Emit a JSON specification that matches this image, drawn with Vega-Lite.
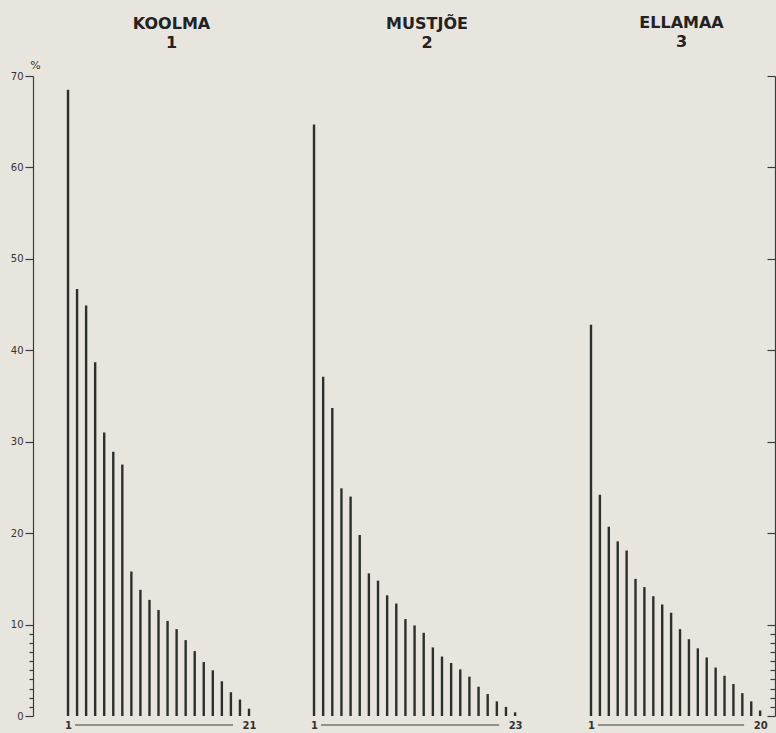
{
  "$schema": "https://vega.github.io/schema/vega-lite/v6.json",
  "background": "#e8e5de",
  "padding": {"left": 10, "top": 15, "right": 0, "bottom": 3},
  "spacing": 0,
  "bounds": "flush",
  "resolve": {"scale": {"x": "independent", "y": "independent"}},
  "config": {
    "view": {"stroke": null},
    "axis": {"labelFont": "DejaVu Sans", "labelFontSize": 10, "labelColor": "#333333", "domainColor": "#3a3d3a", "tickColor": "#3a3d3a", "grid": false, "labelOverlap": false},
    "title": {"font": "DejaVu Sans", "fontSize": 16, "fontWeight": "bold", "color": "#222222", "lineHeight": 19, "offset": 25}
  },
  "datasets": {
    "d": [
      {"site": "KOOLMA", "rank": 1, "pct": 68.5},
      {"site": "KOOLMA", "rank": 2, "pct": 46.7},
      {"site": "KOOLMA", "rank": 3, "pct": 44.9},
      {"site": "KOOLMA", "rank": 4, "pct": 38.7},
      {"site": "KOOLMA", "rank": 5, "pct": 31.0},
      {"site": "KOOLMA", "rank": 6, "pct": 28.9},
      {"site": "KOOLMA", "rank": 7, "pct": 27.5},
      {"site": "KOOLMA", "rank": 8, "pct": 15.8},
      {"site": "KOOLMA", "rank": 9, "pct": 13.8},
      {"site": "KOOLMA", "rank": 10, "pct": 12.7},
      {"site": "KOOLMA", "rank": 11, "pct": 11.6},
      {"site": "KOOLMA", "rank": 12, "pct": 10.4},
      {"site": "KOOLMA", "rank": 13, "pct": 9.5},
      {"site": "KOOLMA", "rank": 14, "pct": 8.3},
      {"site": "KOOLMA", "rank": 15, "pct": 7.1},
      {"site": "KOOLMA", "rank": 16, "pct": 5.9},
      {"site": "KOOLMA", "rank": 17, "pct": 5.0},
      {"site": "KOOLMA", "rank": 18, "pct": 3.8},
      {"site": "KOOLMA", "rank": 19, "pct": 2.6},
      {"site": "KOOLMA", "rank": 20, "pct": 1.8},
      {"site": "KOOLMA", "rank": 21, "pct": 0.8},
      {"site": "MUSTJÕE", "rank": 1, "pct": 64.7},
      {"site": "MUSTJÕE", "rank": 2, "pct": 37.1},
      {"site": "MUSTJÕE", "rank": 3, "pct": 33.7},
      {"site": "MUSTJÕE", "rank": 4, "pct": 24.9},
      {"site": "MUSTJÕE", "rank": 5, "pct": 24.0},
      {"site": "MUSTJÕE", "rank": 6, "pct": 19.8},
      {"site": "MUSTJÕE", "rank": 7, "pct": 15.6},
      {"site": "MUSTJÕE", "rank": 8, "pct": 14.8},
      {"site": "MUSTJÕE", "rank": 9, "pct": 13.2},
      {"site": "MUSTJÕE", "rank": 10, "pct": 12.3},
      {"site": "MUSTJÕE", "rank": 11, "pct": 10.6},
      {"site": "MUSTJÕE", "rank": 12, "pct": 9.9},
      {"site": "MUSTJÕE", "rank": 13, "pct": 9.1},
      {"site": "MUSTJÕE", "rank": 14, "pct": 7.5},
      {"site": "MUSTJÕE", "rank": 15, "pct": 6.5},
      {"site": "MUSTJÕE", "rank": 16, "pct": 5.8},
      {"site": "MUSTJÕE", "rank": 17, "pct": 5.1},
      {"site": "MUSTJÕE", "rank": 18, "pct": 4.3},
      {"site": "MUSTJÕE", "rank": 19, "pct": 3.2},
      {"site": "MUSTJÕE", "rank": 20, "pct": 2.4},
      {"site": "MUSTJÕE", "rank": 21, "pct": 1.6},
      {"site": "MUSTJÕE", "rank": 22, "pct": 1.0},
      {"site": "MUSTJÕE", "rank": 23, "pct": 0.4},
      {"site": "ELLAMAA", "rank": 1, "pct": 42.8},
      {"site": "ELLAMAA", "rank": 2, "pct": 24.2},
      {"site": "ELLAMAA", "rank": 3, "pct": 20.7},
      {"site": "ELLAMAA", "rank": 4, "pct": 19.1},
      {"site": "ELLAMAA", "rank": 5, "pct": 18.1},
      {"site": "ELLAMAA", "rank": 6, "pct": 15.0},
      {"site": "ELLAMAA", "rank": 7, "pct": 14.1},
      {"site": "ELLAMAA", "rank": 8, "pct": 13.1},
      {"site": "ELLAMAA", "rank": 9, "pct": 12.2},
      {"site": "ELLAMAA", "rank": 10, "pct": 11.3},
      {"site": "ELLAMAA", "rank": 11, "pct": 9.5},
      {"site": "ELLAMAA", "rank": 12, "pct": 8.4},
      {"site": "ELLAMAA", "rank": 13, "pct": 7.4},
      {"site": "ELLAMAA", "rank": 14, "pct": 6.4},
      {"site": "ELLAMAA", "rank": 15, "pct": 5.3},
      {"site": "ELLAMAA", "rank": 16, "pct": 4.4},
      {"site": "ELLAMAA", "rank": 17, "pct": 3.5},
      {"site": "ELLAMAA", "rank": 18, "pct": 2.5},
      {"site": "ELLAMAA", "rank": 19, "pct": 1.6},
      {"site": "ELLAMAA", "rank": 20, "pct": 0.6}
    ]
  },
  "hconcat": [
    {
      "width": 277, "height": 640,
      "title": {"text": ["KOOLMA", "1"], "offset": 8},
      "data": {"name": "d"},
      "transform": [{"filter": "datum.site === 'KOOLMA'"}],
      "layer": [
        {
          "mark": {"type": "bar", "orient": "vertical", "size": 2.4, "color": "#2b302c"},
          "encoding": {
            "x": {"field": "rank", "type": "quantitative", "scale": {"domain": [-2.87, 27.74], "nice": false, "zero": false, "padding": 0},
                  "axis": {"values": [1, 21], "domain": false, "ticks": false, "labelFontSize": 10, "labelFontWeight": "bold", "labelPadding": 4, "title": null}},
            "y": {"field": "pct", "type": "quantitative", "scale": {"domain": [0, 70], "nice": false},
                  "axis": {"values": [0, 1, 2, 3, 4, 5, 6, 7, 8, 9, 10, 20, 30, 40, 50, 60, 70], "tickCount": 40,
                           "labelExpr": "datum.value % 10 === 0 ? datum.label : ''",
                           "tickSize": {"condition": {"test": "datum.value % 10 === 0", "value": 8}, "value": 4},
                           "labelPadding": 2, "domainWidth": 1.2, "tickWidth": 1.2,
                           "title": "%", "titleAngle": 0, "titleX": 2, "titleY": -11, "titleAlign": "center", "titleBaseline": "middle",
                           "titleFontSize": 11, "titleFontWeight": "normal", "titleFont": "DejaVu Sans", "titleColor": "#333333"}}
          }
        },
        {
          "transform": [{"aggregate": [{"op": "min", "field": "rank", "as": "lo"}, {"op": "max", "field": "rank", "as": "hi"}]}],
          "mark": {"type": "rule", "color": "#3a3d3a", "strokeWidth": 1, "xOffset": 7, "x2Offset": -16, "yOffset": 9, "y2Offset": 9},
          "encoding": {"x": {"field": "lo", "type": "quantitative"}, "x2": {"field": "hi"}, "y": {"datum": 0}}
        }
      ]
    },
    {
      "width": 234, "height": 640,
      "title": {"text": ["MUSTJÕE", "2"]},
      "data": {"name": "d"},
      "transform": [{"filter": "datum.site === 'MUSTJÕE'"}],
      "layer": [
        {
          "mark": {"type": "bar", "orient": "vertical", "size": 2.4, "color": "#2b302c"},
          "encoding": {
            "x": {"field": "rank", "type": "quantitative", "scale": {"domain": [0.56, 26.16], "nice": false, "zero": false, "padding": 0},
                  "axis": {"values": [1, 23], "domain": false, "ticks": false, "labelFontSize": 10, "labelFontWeight": "bold", "labelPadding": 4, "title": null}},
            "y": {"field": "pct", "type": "quantitative", "scale": {"domain": [0, 70], "nice": false}, "axis": null}
          }
        },
        {
          "transform": [{"aggregate": [{"op": "min", "field": "rank", "as": "lo"}, {"op": "max", "field": "rank", "as": "hi"}]}],
          "mark": {"type": "rule", "color": "#3a3d3a", "strokeWidth": 1, "xOffset": 7, "x2Offset": -16, "yOffset": 9, "y2Offset": 9},
          "encoding": {"x": {"field": "lo", "type": "quantitative"}, "x2": {"field": "hi"}, "y": {"datum": 0}}
        }
      ]
    },
    {
      "width": 231, "height": 640,
      "title": {"text": ["ELLAMAA", "3"], "dx": 22},
      "data": {"name": "d"},
      "transform": [{"filter": "datum.site === 'ELLAMAA'"}],
      "layer": [
        {
          "mark": {"type": "bar", "orient": "vertical", "size": 2.4, "color": "#2b302c"},
          "encoding": {
            "x": {"field": "rank", "type": "quantitative", "scale": {"domain": [-4.28, 21.67], "nice": false, "zero": false, "padding": 0},
                  "axis": {"values": [1, 20], "domain": false, "ticks": false, "labelFontSize": 10, "labelFontWeight": "bold", "labelPadding": 4, "title": null}},
            "y": {"field": "pct", "type": "quantitative", "scale": {"domain": [0, 70], "nice": false},
                  "axis": {"orient": "right", "values": [0, 1, 2, 3, 4, 5, 6, 7, 8, 9, 10, 20, 30, 40, 50, 60, 70], "tickCount": 40,
                           "labels": false,
                           "tickSize": {"condition": {"test": "datum.value % 10 === 0", "value": -8}, "value": -5},
                           "domainWidth": 1.2, "tickWidth": 1.2, "title": null}}
          }
        },
        {
          "transform": [{"aggregate": [{"op": "min", "field": "rank", "as": "lo"}, {"op": "max", "field": "rank", "as": "hi"}]}],
          "mark": {"type": "rule", "color": "#3a3d3a", "strokeWidth": 1, "xOffset": 7, "x2Offset": -16, "yOffset": 9, "y2Offset": 9},
          "encoding": {"x": {"field": "lo", "type": "quantitative"}, "x2": {"field": "hi"}, "y": {"datum": 0}}
        }
      ]
    }
  ]
}
